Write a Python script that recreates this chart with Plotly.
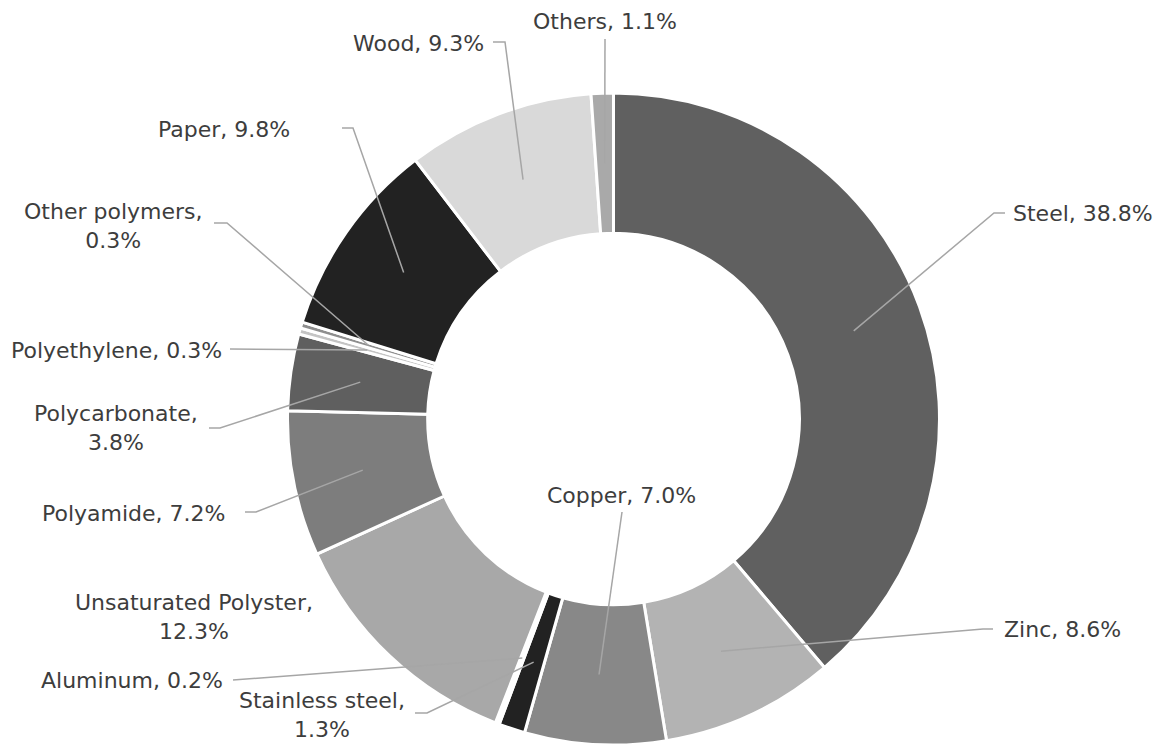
import math
import plotly.graph_objects as go

# ---------------- data ----------------
labels = ["Steel", "Zinc", "Copper", "Stainless steel", "Aluminum",
          "Unsaturated Polyster", "Polyamide", "Polycarbonate", "Polyethylene",
          "Other polymers", "Paper", "Wood", "Others"]
values = [38.8, 8.6, 7.0, 1.3, 0.2, 12.3, 7.2, 3.8, 0.3, 0.3, 9.8, 9.3, 1.1]
colors = ["#606060", "#b3b3b3", "#888888", "#222222", "#ffffff",
          "#a8a8a8", "#7d7d7d", "#5f5f5f", "#c4c4c4",
          "#8e8e8e", "#222222", "#d9d9d9", "#a9a9a9"]
# label texts (line breaks where the reference wraps)
label_texts = ["Steel, 38.8%", "Zinc, 8.6%", "Copper, 7.0%", "Stainless steel,<br>1.3%",
               "Aluminum, 0.2%", "Unsaturated Polyster,<br>12.3%", "Polyamide, 7.2%",
               "Polycarbonate,<br>3.8%", "Polyethylene, 0.3%", "Other polymers,<br>0.3%",
               "Paper, 9.8%", "Wood, 9.3%", "Others, 1.1%"]

# ---------------- layout geometry (pixels) ----------------
W, H = 1158, 747
CX, CY = 613.5, 419.0
R_OUT = 326.0
HOLE = 0.57
R_MID = R_OUT * (1 + HOLE) / 2

# leader line waypoints (after the in-slice anchor) and label placement
label_layout = {
    "Steel":                dict(path=[(994, 213), (1005, 213)], tx=1083, ty=213),
    "Zinc":                 dict(path=[(983, 629), (993, 629)], tx=1062, ty=629),
    "Copper":               dict(path=[(622, 512)], tx=622, ty=495),
    "Stainless steel":      dict(path=[(427, 713), (415, 713)], tx=322, ty=715),
    "Aluminum":             dict(path=[(233, 680)], tx=132, ty=680),
    "Unsaturated Polyster": dict(path=[], tx=194, ty=617),
    "Polyamide":            dict(path=[(256, 512), (245, 512)], tx=133, ty=513),
    "Polycarbonate":        dict(path=[(220, 428), (209, 428)], tx=116, ty=428),
    "Polyethylene":         dict(path=[(230, 349)], tx=116, ty=350),
    "Other polymers":       dict(path=[(227, 223), (214, 223)], tx=113, ty=226),
    "Paper":                dict(path=[(353, 128), (342, 128)], tx=224, ty=129),
    "Wood":                 dict(path=[(505, 42), (493, 42)], tx=418, ty=43),
    "Others":               dict(path=[(605, 39)], tx=605, ty=21),
}

def px(x):
    return x / W

def py(y):
    return 1 - y / H

fig = go.Figure()
fig.add_trace(go.Pie(
    labels=labels, values=values, sort=False, direction="clockwise", rotation=0,
    hole=HOLE, textinfo="none", hoverinfo="label+percent",
    marker=dict(colors=colors, line=dict(color="#ffffff", width=3)),
    domain=dict(x=[px(CX - R_OUT), px(CX + R_OUT)], y=[py(CY + R_OUT), py(CY - R_OUT)]),
    showlegend=False,
))

total = sum(values)
cum = 0.0
shapes = []
annotations = []
for lab, val, txt in zip(labels, values, label_texts):
    mid = (cum + val / 2) / total * 2 * math.pi
    cum += val
    ax = CX + R_MID * math.sin(mid)
    ay = CY - R_MID * math.cos(mid)
    spec = label_layout[lab]
    pts = [(ax, ay)] + spec["path"]
    if len(pts) > 1:
        d = "M {} {}".format(px(pts[0][0]), py(pts[0][1]))
        for (x, y) in pts[1:]:
            d += " L {} {}".format(px(x), py(y))
        shapes.append(dict(type="path", path=d, xref="paper", yref="paper",
                           line=dict(color="#a6a6a6", width=1.5), layer="above"))
    annotations.append(dict(
        x=px(spec["tx"]), y=py(spec["ty"]), xref="paper", yref="paper",
        text=txt, showarrow=False, xanchor="center", yanchor="middle", align="center",
        font=dict(family="DejaVu Sans", size=22, color="#3d3d3d"),
    ))

fig.update_layout(
    width=W, height=H, margin=dict(l=0, r=0, t=0, b=0),
    paper_bgcolor="#ffffff", plot_bgcolor="#ffffff",
    shapes=shapes, annotations=annotations,
)

fig.write_html("out.html", config={"displayModeBar": False},
               post_script="document.body.style.margin='0';document.body.style.overflow='hidden';")
